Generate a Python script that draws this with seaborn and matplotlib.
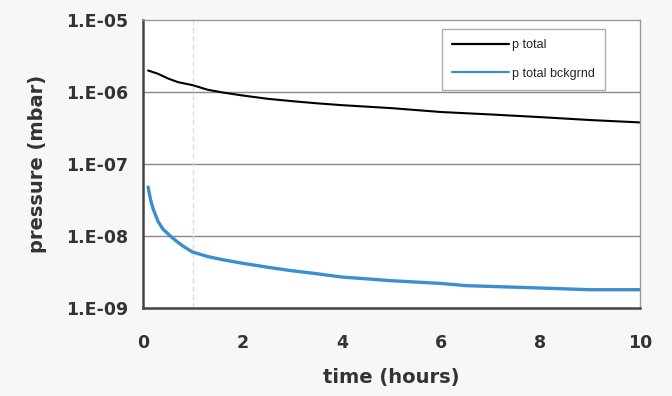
import numpy as np
import pandas as pd
import matplotlib
matplotlib.use("Agg")
import matplotlib.pyplot as plt
import seaborn as sns

# data
t_total = [0.1, 0.3, 0.5, 0.7, 1.0, 1.3, 1.6, 2.0, 2.5, 3.0, 3.5, 4.0, 5.0, 6.0, 7.0, 8.0, 9.0, 10.0]
p_total = [2.0e-6, 1.8e-6, 1.55e-6, 1.38e-6, 1.25e-6, 1.08e-6, 9.9e-7, 9.0e-7, 8.1e-7, 7.5e-7, 7.0e-7, 6.6e-7, 6.0e-7, 5.3e-7, 4.9e-7, 4.5e-7, 4.1e-7, 3.8e-7]
t_bg = [0.1, 0.15, 0.2, 0.3, 0.4, 0.55, 0.7, 0.85, 1.0, 1.3, 1.6, 2.0, 2.5, 3.0, 3.5, 4.0, 4.5, 5.0, 6.0, 6.5, 7.0, 8.0, 9.0, 10.0]
p_bg = [4.8e-8, 3.2e-8, 2.4e-8, 1.6e-8, 1.25e-8, 1.0e-8, 8.2e-9, 6.9e-9, 6.0e-9, 5.2e-9, 4.7e-9, 4.2e-9, 3.7e-9, 3.3e-9, 3.0e-9, 2.7e-9, 2.55e-9, 2.4e-9, 2.2e-9, 2.05e-9, 2.0e-9, 1.9e-9, 1.8e-9, 1.8e-9]
y_ticks = [1e-9, 1e-8, 1e-7, 1e-6, 1e-5]
y_tick_labels = ["1.E-09", "1.E-08", "1.E-07", "1.E-06", "1.E-05"]
x_ticks = [0, 2, 4, 6, 8, 10]

df = pd.concat([
    pd.DataFrame({"time": t_total, "pressure": p_total, "series": "p total"}),
    pd.DataFrame({"time": t_bg, "pressure": p_bg, "series": "p total bckgrnd"}),
])

sns.set_theme(style="white")
plt.rcParams["font.family"] = ["Liberation Sans", "DejaVu Sans"]
wide = ["DejaVu Sans"]

fig = plt.figure(figsize=(6.72, 3.96), dpi=100, facecolor="#f7f7f5")
ax = fig.add_axes([0.213, 0.222, 0.739, 0.727])
ax.set_facecolor("white")

sns.lineplot(data=df, x="time", y="pressure", hue="series",
             palette={"p total": "black", "p total bckgrnd": "#3b8fd0"},
             linewidth=1.5, ax=ax)
ax.lines[1].set_linewidth(2.4)

ax.set_yscale("log")
ax.set_ylim(1e-9, 1e-5)
ax.set_xlim(0, 10)
ax.set_yticks(y_ticks)
ax.set_yticklabels(y_tick_labels)
ax.minorticks_off()
ax.set_xticks(x_ticks)
ax.set_xticks(np.arange(0, 10.01, 0.5), minor=True)
ax.tick_params(axis="x", which="minor", length=3, direction="in", color="#777777")
for lbl in ax.get_xticklabels() + ax.get_yticklabels():
    lbl.set_fontweight("bold")
    lbl.set_fontsize(12.5)
    lbl.set_family(wide)
    lbl.set_color("#333333")
ax.tick_params(axis="y", which="major", length=5, direction="inout", color="#555555", pad=8)
ax.tick_params(axis="x", which="major", length=5, direction="inout", color="#555555", pad=16)

for y in y_ticks[1:-1]:
    ax.axhline(y, color="#888888", linewidth=1.0, zorder=0)
ax.axvline(1, color="#dddde6", linewidth=1.0, linestyle=(0, (4, 2)), zorder=0)

for side in ["left", "bottom"]:
    ax.spines[side].set_color("#444444")
    ax.spines[side].set_linewidth(1.8)
for side in ["top", "right"]:
    ax.spines[side].set_color("#999999")
    ax.spines[side].set_linewidth(1.0)

ax.set_xlabel("time (hours)", fontsize=14, fontweight="bold", family=wide, color="#333333", labelpad=12)
ax.set_ylabel("pressure (mbar)", fontsize=14, fontweight="bold", family=wide, color="#333333", labelpad=14)

leg = ax.legend(title=None, loc="upper right", bbox_to_anchor=(0.942, 0.99), fontsize=9,
                frameon=True, fancybox=False, edgecolor="#999999", handlelength=4.6,
                handletextpad=0.2, borderpad=0.8, labelspacing=1.3)
leg.get_frame().set_linewidth(1.0)
for line in leg.get_lines():
    line.set_linewidth(1.6)

fig.savefig("out.png", dpi=100, facecolor=fig.get_facecolor())
